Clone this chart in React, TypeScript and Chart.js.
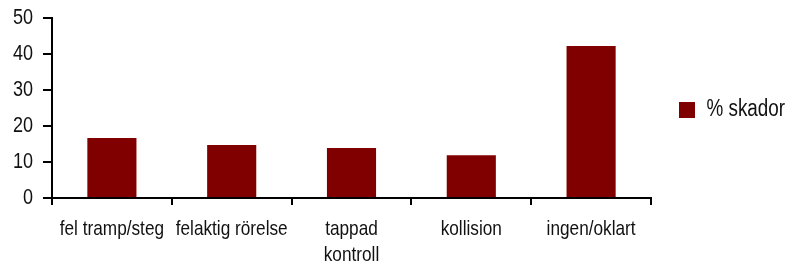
import React, { useEffect, useRef } from "react";
import { Chart, registerables } from "chart.js";

Chart.register(...registerables);

const categories: (string | string[])[] = [
  "fel tramp/steg",
  "felaktig rörelse",
  ["tappad", "kontroll"],
  "kollision",
  "ingen/oklart",
];
const seriesLabel = "% skador";
const values = [16.7, 14.7, 13.9, 11.9, 42.2];
const yTicks = [0, 10, 20, 30, 40, 50];

const FONT = "'Liberation Sans', Arial, sans-serif";
const TEXT = "#111111";
const BAR = "#800000";
const NARROW = 0.82; // horizontal text compression to mimic a condensed face

function condenseText(ctx: CanvasRenderingContext2D, k: number) {
  const origFill = ctx.fillText.bind(ctx);
  const origMeasure = ctx.measureText.bind(ctx);
  (ctx as any).fillText = (text: string, x: number, y: number, maxWidth?: number) => {
    ctx.save();
    ctx.translate(x, y);
    ctx.scale(k, 1);
    if (maxWidth !== undefined) origFill(text, 0, 0, maxWidth / k);
    else origFill(text, 0, 0);
    ctx.restore();
  };
  (ctx as any).measureText = (text: string) => {
    const m = origMeasure(text);
    return {
      width: m.width * k,
      actualBoundingBoxAscent: m.actualBoundingBoxAscent,
      actualBoundingBoxDescent: m.actualBoundingBoxDescent,
      actualBoundingBoxLeft: m.actualBoundingBoxLeft * k,
      actualBoundingBoxRight: m.actualBoundingBoxRight * k,
      fontBoundingBoxAscent: (m as any).fontBoundingBoxAscent,
      fontBoundingBoxDescent: (m as any).fontBoundingBoxDescent,
    };
  };
}

export default function App() {
  const ref = useRef<HTMLCanvasElement | null>(null);
  useEffect(() => {
    if (!ref.current) return;
    const ctx = ref.current.getContext("2d")!;
    condenseText(ctx, NARROW);
    const chart = new Chart(ctx, {
      type: "bar",
      data: {
        labels: categories,
        datasets: [
          {
            label: seriesLabel,
            data: values,
            backgroundColor: BAR,
            borderWidth: 0,
            categoryPercentage: 1,
            barPercentage: 0.41,
          },
        ],
      },
      options: {
        responsive: false,
        animation: false,
        layout: { padding: { top: 18, left: 0, right: 0, bottom: 0 } },
        plugins: {
          tooltip: { enabled: false },
          legend: {
            position: "right",
            fullSize: false,
            maxWidth: 140,
            title: {
              display: true,
              text: " ",
              padding: 0,
              font: { family: FONT, size: 4, lineHeight: 1 },
            },
            labels: {
              boxWidth: 16,
              boxHeight: 16,
              padding: 28,
              color: TEXT,
              font: { family: FONT, size: 23 },
            },
          },
        },
        scales: {
          x: {
            afterFit: (s: any) => {
              s.height = 70;
              s.paddingLeft = 0;
              s.paddingRight = 0;
            },
            grid: {
              display: true,
              drawOnChartArea: false,
              offset: true,
              tickLength: 7,
              lineWidth: 2,
              color: "#000",
            },
            border: { display: true, color: "#000", width: 2 },
            ticks: {
              color: TEXT,
              padding: 12,
              maxRotation: 0,
              autoSkip: false,
              font: { family: FONT, size: 21, lineHeight: 1.2 },
            },
          },
          y: {
            min: 0,
            max: 50,
            afterFit: (s: any) => {
              s.width = 52;
              s.paddingTop = 0;
              s.paddingBottom = 0;
            },
            afterBuildTicks: (s: any) => {
              s.ticks = yTicks.map((v) => ({ value: v }));
            },
            grid: {
              display: true,
              drawOnChartArea: false,
              tickLength: 9,
              lineWidth: 2,
              color: "#000",
            },
            border: { display: true, color: "#000", width: 2 },
            ticks: {
              color: TEXT,
              padding: 10,
              font: { family: FONT, size: 22 },
            },
          },
        },
      },
    });
    return () => chart.destroy();
  }, []);
  return (
    <div style={{ position: "absolute", left: 0, top: 0, width: 791, height: 268, background: "#fff" }}>
      <canvas ref={ref} width={791} height={268} style={{ display: "block" }} />
    </div>
  );
}
